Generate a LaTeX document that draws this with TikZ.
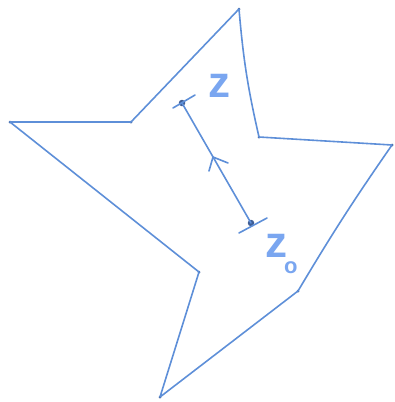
\documentclass[tikz,border=0pt]{standalone}
\usepackage{fontspec}
\setsansfont{Liberation Sans}
\usetikzlibrary{calc}
\definecolor{inkline}{HTML}{5E8FD8}
\definecolor{inktext}{HTML}{7AA6F0}
\definecolor{inkdot}{HTML}{3F5E96}
\tikzset{
  edge/.style={draw=inkline, line width=1.6pt, line join=round, line cap=round},
  vdot/.style={circle, fill=inkdot, inner sep=0pt, minimum size=3pt},
  pdot/.style={circle, fill=inkdot, inner sep=0pt, minimum size=6.5pt},
  lbl/.style={text=inktext, font=\sffamily\bfseries\fontsize{44}{44}\selectfont, inner sep=0pt}
}
\newcommand{\subo}{\kern-3pt\raisebox{-16pt}{\fontsize{22}{22}\selectfont o}}
\begin{document}
\begin{tikzpicture}[x=1pt,y=-1pt]
\useasboundingbox (0,0) rectangle (395,402);
% star vertices
\node[vdot] (v1) at (239,9) {};
\node[vdot] (v2) at (259,137) {};
\node[vdot] (v3) at (392,145) {};
\node[vdot] (v4) at (298,291) {};
\node[vdot] (v5) at (160,397) {};
\node[vdot] (v6) at (199,272) {};
\node[vdot] (v7) at (10,122) {};
\node[vdot] (v8) at (131,122) {};
\draw[edge] (v1.center) to[bend right=4] (v2.center) -- (v3.center) to[bend right=2] (v4.center) -- (v5.center) -- (v6.center) -- (v7.center) -- (v8.center) -- cycle;
% segment z0 -> z
\node[pdot] (z) at (182,103) {};
\node[pdot] (z0) at (251,223) {};
\draw[edge] (z0.center) -- (z.center);
% arrowhead at middle
\coordinate (m) at (213,157);
\coordinate (b1) at (209,171);
\coordinate (b2) at (228,163);
\draw[edge] (b1) -- (m) -- (b2);
% end ticks
\coordinate (t1a) at (173,108);
\coordinate (t1b) at (195,95);
\coordinate (t2a) at (239,233);
\coordinate (t2b) at (267,218);
\draw[edge] (t1a) -- (t1b);
\draw[edge] (t2a) -- (t2b);
% labels
\node[lbl] (lz) at (219,86) {z};
\node[lbl, anchor=base west] (lz0) at (265,257) {z\subo};
\end{tikzpicture}
\end{document}
